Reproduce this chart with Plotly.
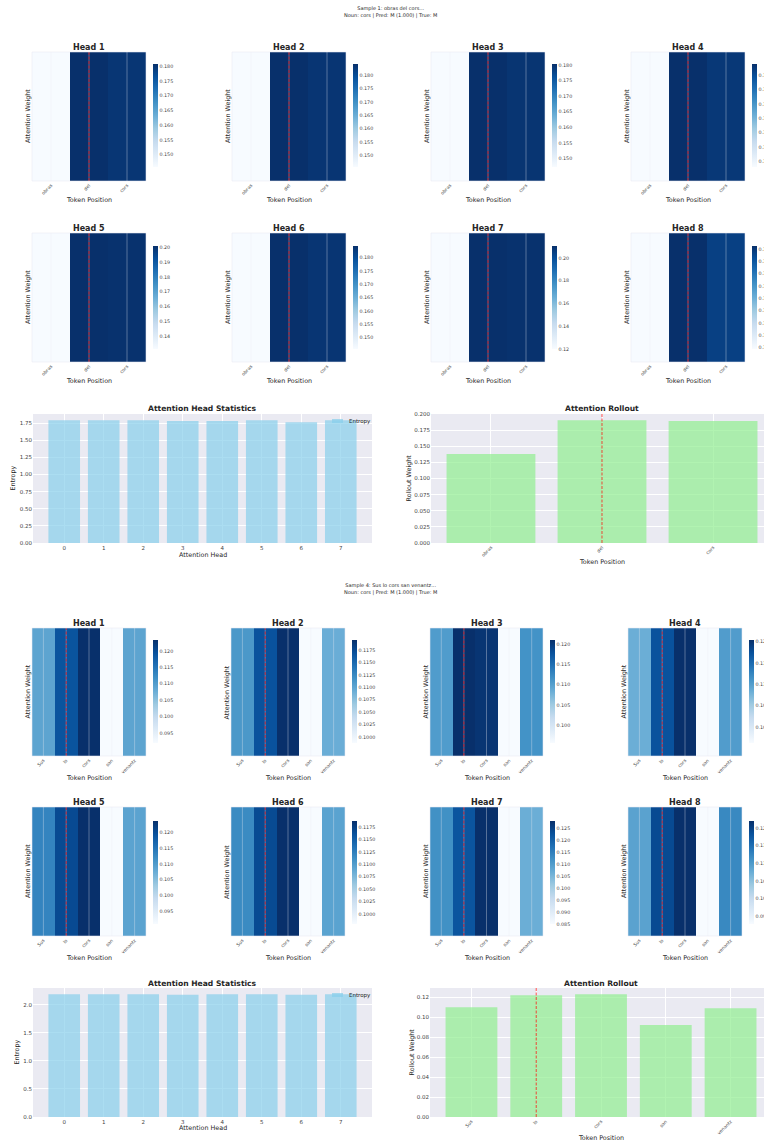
import plotly.graph_objects as go

FIG_W, FIG_H = 764, 1141
FONT = "DejaVu Sans"
TEXT = "#262626"
TICK = "#444444"

# ---------------- data ----------------
HEADS = [0, 1, 2, 3, 4, 5, 6, 7]

S1_TOKENS = ["obras", "del", "cors"]
S1_HEAD_ATTN = [
    [0.1458, 0.1808, 0.1800],
    [0.1456, 0.1842, 0.1834],
    [0.1473, 0.1803, 0.1797],
    [0.1480, 0.1839, 0.1828],
    [0.1312, 0.2009, 0.2003],
    [0.1458, 0.1844, 0.1836],
    [0.1199, 0.2104, 0.2097],
    [0.1395, 0.1812, 0.1787],
]
S1_ENTROPY = [1.795, 1.795, 1.794, 1.784, 1.781, 1.795, 1.765, 1.795]
S1_ROLLOUT = [0.138, 0.1905, 0.189]
S1_MARK = 1
S1_TITLE = "Sample 1: obras del cors...<br>Noun: cors | Pred: M (1.000) | True: M"

S4_TOKENS = ["Sus", "lo", "cors", "san", "venantz"]
S4_HEAD_ATTN = [
    [0.1090, 0.1190, 0.1233, 0.0920, 0.1090],
    [0.1112, 0.1168, 0.1195, 0.0988, 0.1092],
    [0.1104, 0.1210, 0.1205, 0.0957, 0.1114],
    [0.1083, 0.1173, 0.1204, 0.0962, 0.1102],
    [0.1131, 0.1203, 0.1235, 0.0911, 0.1089],
    [0.1115, 0.1166, 0.1187, 0.0980, 0.1094],
    [0.1122, 0.1222, 0.1282, 0.0850, 0.1066],
    [0.1089, 0.1191, 0.1220, 0.0928, 0.1121],
]
S4_ENTROPY = [2.19, 2.19, 2.19, 2.18, 2.19, 2.19, 2.18, 2.19]
S4_ROLLOUT = [0.110, 0.122, 0.123, 0.092, 0.109]
S4_MARK = 1
S4_TITLE = "Sample 4: Sus lo cors san venantz...<br>Noun: cors | Pred: M (1.000) | True: M"

# colorbar tick step / format per head
S1_CBAR_TICKS = [(0.005, ".3f")] * 4 + [(0.01, ".2f"), (0.005, ".3f"), (0.02, ".2f"), (0.005, ".3f")]
S4_CBAR_TICKS = [(0.005, ".3f"), (0.0025, ".4f"), (0.005, ".3f"), (0.005, ".3f"),
                 (0.005, ".3f"), (0.0025, ".4f"), (0.005, ".3f"), (0.005, ".3f")]

BLUES = [[0.0, "#f7fbff"], [0.125, "#deebf7"], [0.25, "#c6dbef"], [0.375, "#9ecae1"],
         [0.5, "#6baed6"], [0.625, "#4292c6"], [0.75, "#2171b5"], [0.875, "#08519c"],
         [1.0, "#08306b"]]
ENTROPY_COLOR = "rgba(135,206,235,0.7)"
ROLLOUT_COLOR = "rgba(144,238,144,0.7)"

fig = go.Figure()
_axis_count = [0]


def px_x(v):
    return v / FIG_W


def px_y(v):
    return 1 - v / FIG_H


def axes_pair(x0, x1, y0, y1, xopts, yopts):
    _axis_count[0] += 1
    n = _axis_count[0]
    sfx = "" if n == 1 else str(n)
    fig.update_layout({
        "xaxis" + sfx: dict(domain=[max(0, px_x(x0)), min(1, px_x(x1))], anchor="y" + sfx, **xopts),
        "yaxis" + sfx: dict(domain=[px_y(y1), px_y(y0)], anchor="x" + sfx, **yopts),
    })
    return "x" + sfx, "y" + sfx


def label(text, x, y, size, bold=False, angle=0, color=TEXT, xanchor="center"):
    fig.add_annotation(text=text, x=px_x(x), y=px_y(y), xref="paper", yref="paper",
                       showarrow=False, textangle=angle, xanchor=xanchor, yanchor="middle",
                       font=dict(family=FONT, size=size, color=color,
                                 weight="bold" if bold else "normal"))


def draw_head(tokens, attn, head_no, box, cb_top, tick_cfg, mark, xlabel_gap):
    x0, x1, y0, y1 = box
    idx = list(range(len(tokens)))
    xr, yr = axes_pair(
        x0, x1, y0, y1,
        dict(range=[-0.5, len(tokens) - 0.5], tickmode="array", tickvals=idx, ticktext=tokens,
             tickangle=-45, tickfont=dict(family=FONT, size=4.6, color=TICK), ticks="",
             showgrid=False, zeroline=False, showline=False),
        dict(range=[-0.5, 0.5], showticklabels=False, showgrid=False, zeroline=False, ticks=""),
    )
    dt, fmt = tick_cfg
    fig.add_trace(go.Heatmap(
        z=[attn], x=idx, y=[0], xaxis=xr, yaxis=yr, colorscale=BLUES, hoverinfo="skip",
        colorbar=dict(x=px_x(x1 + 7), xanchor="left", y=px_y(cb_top), yanchor="top",
                      len=103, lenmode="pixels", thickness=5, thicknessmode="pixels",
                      outlinewidth=0, xpad=0, ypad=0, ticks="", tick0=0, dtick=dt,
                      tickformat=fmt, tickfont=dict(family=FONT, size=4.8, color=TICK)),
    ))
    # grid lines at the token centres, drawn over the map
    for i in idx:
        fig.add_shape(type="line", xref=xr, yref=yr + " domain", x0=i, x1=i, y0=0, y1=1,
                      line=dict(color="rgba(234,234,242,0.35)", width=1), layer="above")
    fig.add_shape(type="line", xref=xr, yref=yr + " domain", x0=mark, x1=mark, y0=0, y1=1,
                  line=dict(color="rgba(255,0,0,0.7)", width=1, dash="3px,1.5px"), layer="above")
    fig.add_shape(type="rect", xref=xr + " domain", yref=yr + " domain", x0=0, x1=1, y0=0, y1=1,
                  line=dict(color="rgba(234,234,242,0.55)", width=1), layer="above")
    label("Head %d" % head_no, (x0 + x1) / 2, y0 - 5, 8, bold=True)
    label("Attention Weight", x0 - 4.5, (y0 + y1) / 2, 6.4, angle=-90)
    label("Token Position", (x0 + x1) / 2, y1 + xlabel_gap, 6.4)


def stat_axes_style(extra):
    base = dict(showgrid=True, gridcolor="white", gridwidth=1, zeroline=False, showline=False,
                ticks="", tickfont=dict(family=FONT, size=5.5, color=TICK))
    base.update(extra)
    return base


def draw_entropy(values, box, ydtick, yfmt, ylabel_x, xlabel_gap):
    x0, x1, y0, y1 = box
    n = len(values)
    pad = 0.05 * (n - 0.2)
    xr, yr = axes_pair(
        x0, x1, y0, y1,
        stat_axes_style(dict(range=[-0.4 - pad, n - 0.6 + pad], tickmode="array", tickvals=HEADS)),
        stat_axes_style(dict(range=[0, max(values) * 1.05], tick0=0, dtick=ydtick, tickformat=yfmt)),
    )
    fig.add_trace(go.Bar(x=HEADS, y=values, width=0.8, xaxis=xr, yaxis=yr, name="Entropy",
                         showlegend=False, hoverinfo="skip",
                         marker=dict(color=ENTROPY_COLOR, line=dict(width=0))))
    # legend key (upper right, no frame)
    fig.add_shape(type="rect", xref="paper", yref="paper",
                  x0=px_x(x1 - 40), x1=px_x(x1 - 29), y0=px_y(y0 + 9), y1=px_y(y0 + 5),
                  fillcolor=ENTROPY_COLOR, line=dict(width=0), layer="above")
    label("Entropy", x1 - 25, y0 + 7, 5.5, xanchor="left")
    label("Attention Head Statistics", (x0 + x1) / 2, y0 - 5, 7.6, bold=True)
    label("Entropy", ylabel_x, (y0 + y1) / 2, 6.4, angle=-90)
    label("Attention Head", (x0 + x1) / 2, y1 + xlabel_gap, 6.4)


def draw_rollout(tokens, values, mark, box, ydtick, yfmt, ylabel_x, xlabel_gap):
    x0, x1_full, y0, y1 = box
    n = len(values)
    pad = 0.05 * (n - 0.2)
    lo, hi = -0.4 - pad, n - 0.6 + pad
    hi_visible = lo + (hi - lo) * (FIG_W - x0) / (x1_full - x0)
    idx = list(range(n))
    xr, yr = axes_pair(
        x0, FIG_W, y0, y1,
        stat_axes_style(dict(range=[lo, hi_visible], tickmode="array", tickvals=idx,
                             ticktext=tokens, tickangle=-45,
                             tickfont=dict(family=FONT, size=4.6, color=TICK))),
        stat_axes_style(dict(range=[0, max(values) * 1.05], tick0=0, dtick=ydtick, tickformat=yfmt)),
    )
    fig.add_trace(go.Bar(x=idx, y=values, width=0.8, xaxis=xr, yaxis=yr, showlegend=False,
                         hoverinfo="skip",
                         marker=dict(color=ROLLOUT_COLOR, line=dict(width=0))))
    fig.add_shape(type="line", xref=xr, yref=yr + " domain", x0=mark, x1=mark, y0=0, y1=1,
                  line=dict(color="rgba(255,0,0,0.7)", width=1, dash="3px,1.5px"), layer="above")
    label("Attention Rollout", (x0 + x1_full) / 2, y0 - 5, 7.6, bold=True)
    label("Rollout Weight", ylabel_x, (y0 + y1) / 2, 6.4, angle=-90)
    label("Token Position", (x0 + x1_full) / 2, y1 + xlabel_gap, 6.4)


# ---------------- sample 1 ----------------
label(S1_TITLE, 390, 12, 5)
s1_cols = [(32, 146), (232, 346), (431, 545), (631, 745)]
s1_rows = [(52, 181, 64), (233, 362, 246)]
for h, attn in enumerate(S1_HEAD_ATTN):
    cx0, cx1 = s1_cols[h % 4]
    ry0, ry1, cb = s1_rows[h // 4]
    draw_head(S1_TOKENS, attn, h + 1, (cx0, cx1, ry0, ry1), cb, S1_CBAR_TICKS[h], S1_MARK, 19)
draw_entropy(S1_ENTROPY, (33, 372, 414, 543), 0.25, ".2f", 13, 12)
draw_rollout(S1_TOKENS, S1_ROLLOUT, S1_MARK, (431, 773, 414, 543), 0.025, ".3f", 409, 19)

# ---------------- sample 4 ----------------
label(S4_TITLE, 390, 588.5, 5)
s4_cols = [(32, 146), (231, 345), (430, 543), (628, 742)]
s4_rows = [(628, 756, 640), (807, 936, 821)]
for h, attn in enumerate(S4_HEAD_ATTN):
    cx0, cx1 = s4_cols[h % 4]
    ry0, ry1, cb = s4_rows[h // 4]
    draw_head(S4_TOKENS, attn, h + 1, (cx0, cx1, ry0, ry1), cb, S4_CBAR_TICKS[h], S4_MARK, 22)
draw_entropy(S4_ENTROPY, (33, 372, 988, 1117), 0.5, ".1f", 16, 11)
draw_rollout(S4_TOKENS, S4_ROLLOUT, S4_MARK, (430, 772, 988, 1117), 0.02, ".2f", 411, 21)

fig.update_layout(
    width=FIG_W, height=FIG_H,
    margin=dict(l=0, r=0, t=0, b=0, autoexpand=False),
    paper_bgcolor="white", plot_bgcolor="#EAEAF2",
    font=dict(family=FONT, color=TEXT),
    showlegend=False,
)

fig.write_html("out.html")
